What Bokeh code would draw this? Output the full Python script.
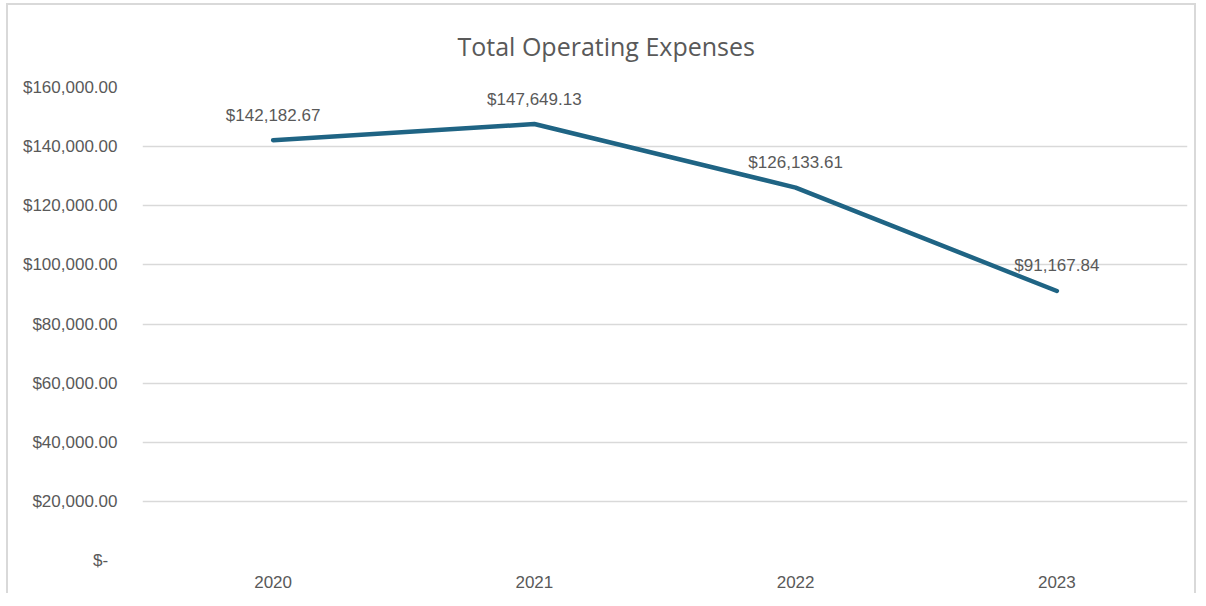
from bokeh.plotting import figure
from bokeh.models import ColumnDataSource, FixedTicker, LabelSet, Range1d
from bokeh.core.properties import value
from bokeh.embed import file_html
from bokeh.resources import INLINE

years = ["2020", "2021", "2022", "2023"]
expenses = [142182.67, 147649.13, 126133.61, 91167.84]
expense_labels = ["$142,182.67", "$147,649.13", "$126,133.61", "$91,167.84"]
y_ticks = [0, 20000, 40000, 60000, 80000, 100000, 120000, 140000, 160000]
y_tick_labels = ["$-  ", "$20,000.00", "$40,000.00", "$60,000.00", "$80,000.00",
                 "$100,000.00", "$120,000.00", "$140,000.00", "$160,000.00"]
chart_title = "Total Operating Expenses"

TXT = "#595959"
GRID = "#D9D9D9"
FONT = "Liberation Sans"

src = ColumnDataSource(dict(year=years, value=expenses, label=expense_labels))

p = figure(width=1190, height=590, x_range=years, y_range=Range1d(0, 160000),
           output_backend="svg", toolbar_location=None, title=chart_title,
           min_border_left=134, min_border_right=11, min_border_top=78,
           min_border_bottom=35)
p.styles = {"margin-left": "6px", "margin-top": "3px",
            "border-top": "2px solid #D9D9D9", "border-left": "2px solid #D9D9D9",
            "border-right": "2px solid #D9D9D9"}

p.title.align = "left"
p.title.offset = 315
p.title.vertical_align = "top"
p.title.text_font = "Open Sans"
p.title.text_font_size = "25px"
p.title.text_font_style = "normal"
p.title.text_color = TXT
p.title.standoff = 46

p.line("year", "value", source=src, line_color="#1F6484", line_width=4.5,
       line_cap="round", line_join="round")

labels = LabelSet(x="year", y="value", text="label", source=src,
                  text_align="center", text_baseline="middle", y_offset=25,
                  text_font=value(FONT), text_font_size=value("17px"),
                  text_color=TXT)
p.add_layout(labels)

p.outline_line_color = None
p.background_fill_color = "white"
p.border_fill_color = "white"

p.xgrid.grid_line_color = None
p.ygrid.grid_line_color = GRID
p.ygrid.grid_line_width = 1.5

p.yaxis.ticker = FixedTicker(ticks=y_ticks)
p.yaxis.major_label_overrides = {t: l for t, l in zip(y_ticks, y_tick_labels)}
for ax in (p.xaxis[0], p.yaxis[0]):
    ax.axis_line_color = None
    ax.major_tick_line_color = None
    ax.minor_tick_line_color = None
    ax.major_label_text_font = FONT
    ax.major_label_text_font_size = "17px"
    ax.major_label_text_color = TXT
p.yaxis.major_label_standoff = 19
p.xaxis.major_label_standoff = 9

open("out.html", "w").write(file_html(p, INLINE))
